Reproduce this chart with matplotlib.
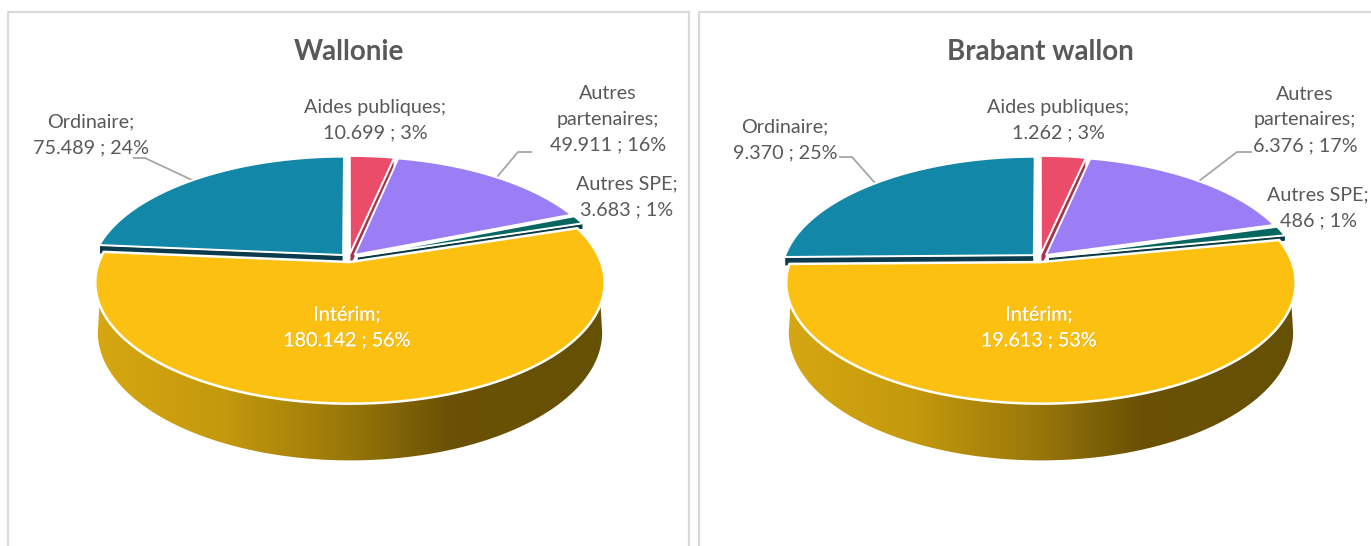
import matplotlib
matplotlib.use("Agg")
import matplotlib.pyplot as plt
import matplotlib.patheffects as pe
from matplotlib.colors import LinearSegmentedColormap
from matplotlib.patches import Polygon
import numpy as np

plt.rcParams['font.family'] = ['Lato', 'DejaVu Sans']

# data
categories = ['Aides publiques', 'Autres\npartenaires', 'Autres SPE', 'Intérim', 'Ordinaire']
wallonie_values = [10699, 49911, 3683, 180142, 75489]
wallonie_pct = [3, 16, 1, 56, 24]
brabant_values = [1262, 6376, 486, 19613, 9370]
brabant_pct = [3, 17, 1, 53, 25]
titles = ['Wallonie', 'Brabant wallon']

colors = ['#EA4C6A', '#9B7DF5', '#05675F', '#FCC010', '#1287A8']
wall_colors = ['#A8344C', None, '#0A3B45', None, '#0B3B4C']
wall_depth = [14, 0, 6, 0, 9]
text_grey = '#595959'
leader_grey = '#A6A6A6'

# perspective of the disc, in pixels
CY = 258
RX = 249.5
RY = 116
PERSP = 0.17
EXPLODE = 0.035
WALL = 48

# label centres and leader lines, per panel
label_pos = [
    [(375, 120), (608, 119), (627, 197), (347, 328), (91, 135)],
    [(1058, 120), (1305, 120), (1318, 208), (1039, 328), (785, 140)],
]
leaders = [
    [[(134, 158), (145, 158), (192, 180)], [(531, 152), (518, 152), (497, 177)]],
    [[(840, 157), (852, 157), (875, 183)], [(1251, 152), (1237, 152), (1199, 181)]],
]
centres = [349, 1040]
frames = [(8, 689), (699, 1400)]


def project(x, y, cx, cy=CY, rx=RX, ry=RY):
    s = 1 / (1 + PERSP * y)
    return np.column_stack([cx + rx * x * s, cy - ry * y * s])


def wedge_xy(t1, t2, n=120):
    t = np.linspace(t1, t2, n)
    mid = (t1 + t2) / 2
    dx, dy = EXPLODE * np.sin(mid), EXPLODE * np.cos(mid)
    x = np.r_[dx, dx + np.sin(t)]
    y = np.r_[dy, dy + np.cos(t)]
    return x, y


def draw_pie(ax, values, pct, cx, title, pos, lines, frame):
    ax.plot([frame[0], frame[0], frame[1], frame[1]], [560, 11.5, 11.5, 560], color='#D9D9D9', lw=1.6, zorder=1)
    ax.text(cx, 51.5, title, ha='center', va='center', fontsize=20, fontweight='bold', color=text_grey, zorder=8)

    values = np.array(values, dtype=float)
    edges = np.r_[0, np.cumsum(values)] / values.sum() * 2 * np.pi

    # back wedges first, Intérim goes on top of their cut faces
    for i in [4, 0, 1, 2]:
        x, y = wedge_xy(edges[i], edges[i + 1])
        top = project(x, y, cx)
        if wall_depth[i]:
            # radial cut face that stays visible under the wedge
            a = top[1] if i == 4 else top[-1]
            b = top[0]
            d = np.array([0, wall_depth[i]])
            ax.add_patch(Polygon([a, b, b + d, a + d], closed=True, fc=wall_colors[i], ec='white', lw=0.8, zorder=2))
            if i == 2:
                ax.add_patch(Polygon(np.vstack([top[-20:], top[-20:][::-1] + d]), closed=True,
                                     fc=wall_colors[i], ec='none', zorder=2))
        ax.add_patch(Polygon(top, closed=True, fc=colors[i], ec='white', lw=1.4, joinstyle='miter', zorder=3))

    # Intérim: shaded side then top face
    i = 3
    x, y = wedge_xy(edges[i], edges[i + 1])
    mid = (edges[i] + edges[i + 1]) / 2
    dx, dy = EXPLODE * np.sin(mid), EXPLODE * np.cos(mid)
    t_top = np.radians(np.linspace(110, 250, 100))
    t_bot = np.radians(np.linspace(260, 100, 100))
    upper = project(dx + np.sin(t_top), dy + np.cos(t_top), cx)
    lower = project(dx + np.sin(t_bot), dy + np.cos(t_bot), cx, cy=CY + WALL, rx=RX * 0.99, ry=RY * 1.06)
    side = Polygon(np.vstack([upper, lower]), closed=True, fc='none', ec='none', transform=ax.transData)
    ax.add_patch(side)
    shade = LinearSegmentedColormap.from_list('shade', [(0, '#D6A712'), (0.25, '#C4990C'), (0.48, '#9C7A0A'),
                                                        (0.7, '#6A5105'), (1, '#665004')])
    img = ax.imshow(np.linspace(0, 1, 256)[None, :], cmap=shade, aspect='auto', vmin=0, vmax=1,
                    extent=(cx - 254, cx + 254, 470, 290), zorder=4)
    img.set_clip_path(side)

    top = project(x, y, cx)
    ax.add_patch(Polygon(top, closed=True, fc=colors[i], ec='white', lw=1.8, joinstyle='round', zorder=5))

    for pts in lines:
        pts = np.array(pts)
        ax.plot(pts[:, 0], pts[:, 1], color=leader_grey, lw=1.3, zorder=2.5)

    for i, name in enumerate(categories):
        val = f"{int(values[i]):,}".replace(',', '.')
        txt = f"{name};\n{val} ; {pct[i]}%"
        inside = i == 3
        t = ax.text(pos[i][0], pos[i][1], txt, ha='center', va='center', fontsize=14.2, linespacing=1.62,
                    color='white' if inside else text_grey, zorder=9)
        if inside:
            t.set_path_effects([pe.withSimplePatchShadow(offset=(0.5, -0.5), shadow_rgbFace='#7A5C00', alpha=0.25),
                                pe.Normal()])


fig = plt.figure(figsize=(13.71, 5.46), dpi=100)
ax = fig.add_axes([0, 0, 1, 1])

draw_pie(ax, wallonie_values, wallonie_pct, centres[0], titles[0], label_pos[0], leaders[0], frames[0])
draw_pie(ax, brabant_values, brabant_pct, centres[1], titles[1], label_pos[1], leaders[1], frames[1])

ax.set_xlim(0, 1371)
ax.set_ylim(546, 0)
ax.axis('off')

plt.savefig('out.png', dpi=100)
plt.close()
